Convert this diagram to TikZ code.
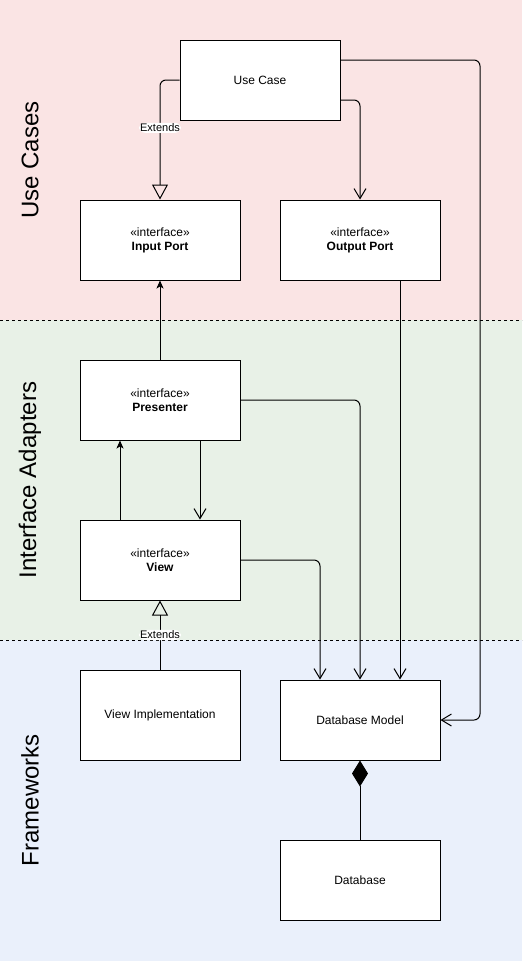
\documentclass[tikz,border=0pt]{standalone}
\usepackage{fontspec}
\setmainfont{Liberation Sans}
\usetikzlibrary{arrows.meta}
\definecolor{laneuse}{HTML}{FAE4E4}
\definecolor{laneadapt}{HTML}{E8F1E7}
\definecolor{laneframe}{HTML}{EAF0FB}
\tikzset{
  box/.style={draw=black, fill=white, line width=1pt, minimum width=160pt,
    inner sep=0pt, font=\fontsize{12}{14}\selectfont, align=center},
  conn/.style={line width=1pt, rounded corners=6pt},
  openhead/.style={conn, -{Straight Barb[length=10pt,width=12pt,line width=1pt]}},
  solidhead/.style={conn, -{Stealth[length=8pt,width=7pt,inset=2pt]}},
  extends/.style={conn, -{Triangle[open,length=15pt,width=16pt,line width=1pt]}},
  lanelabel/.style={rotate=90, font=\fontsize{24}{28}\selectfont},
  edgelabel/.style={fill=white, inner sep=1pt, font=\fontsize{11}{13}\selectfont},
  lanesep/.style={dashed, line width=0.8pt}
}
\begin{document}
\begin{tikzpicture}[x=1pt, y=-1pt]
  \useasboundingbox (0,0) rectangle (522,961);
  % lanes
  \fill[laneuse] (0,0) rectangle (522,320);
  \fill[laneadapt] (0,320) rectangle (522,640);
  \fill[laneframe] (0,640) rectangle (522,961);
  \draw[lanesep] (0,320) -- (522,320);
  \draw[lanesep] (0,640) -- (522,640);
  \node[lanelabel] (lblUse) at (30,160) {Use Cases};
  \node[lanelabel] (lblAdapt) at (30,480) {Interface Adapters};
  \node[lanelabel] (lblFrame) at (30,800) {Frameworks};

  % classes
  \node[box, minimum height=80pt] (usecase) at (260,80) {Use Case};
  \node[box, minimum height=80pt] (inport) at (160,240) {«interface»\\\textbf{Input Port}};
  \node[box, minimum height=80pt] (outport) at (360,240) {«interface»\\\textbf{Output Port}};
  \node[box, minimum height=80pt] (presenter) at (160,400) {«interface»\\\textbf{Presenter}};
  \node[box, minimum height=80pt] (view) at (160,560) {«interface»\\\textbf{View}};
  \node[box, minimum height=90pt] (viewimpl) at (160,715) {View Implementation};
  \node[box, minimum height=80pt] (dbmodel) at (360,720) {Database Model};
  \node[box, minimum height=80pt] (db) at (360,880) {Database};

  % connectors (shifts are in page units, so positive yshift moves up)
  \draw[extends] (usecase.west) -| (inport.north)
    node[edgelabel, pos=0.7] (ext1) {Extends};
  \draw[openhead] ([yshift=-20pt]usecase.east) -| (outport.north);
  \draw[openhead] ([yshift=20pt]usecase.east) -- (480,60) -- (480,720) -- (dbmodel.east);
  \draw[solidhead] (presenter.north) -- (inport.south);
  \draw[openhead] ([xshift=40pt]outport.south) -- ([xshift=40pt]dbmodel.north);
  \draw[openhead] (presenter.east) -| (dbmodel.north);
  \draw[openhead] ([xshift=40pt]presenter.south) -- ([xshift=40pt]view.north);
  \draw[solidhead] ([xshift=-40pt]view.north) -- ([xshift=-40pt]presenter.south);
  \draw[openhead] (view.east) -| ([xshift=-40pt]dbmodel.north);
  \draw[extends] (viewimpl.north) -- (view.south)
    node[edgelabel, pos=0.5] (ext2) {Extends};
  \draw[conn, {Diamond[length=26pt,width=16pt]}-] (dbmodel.south) -- (db.north);
\end{tikzpicture}
\end{document}
